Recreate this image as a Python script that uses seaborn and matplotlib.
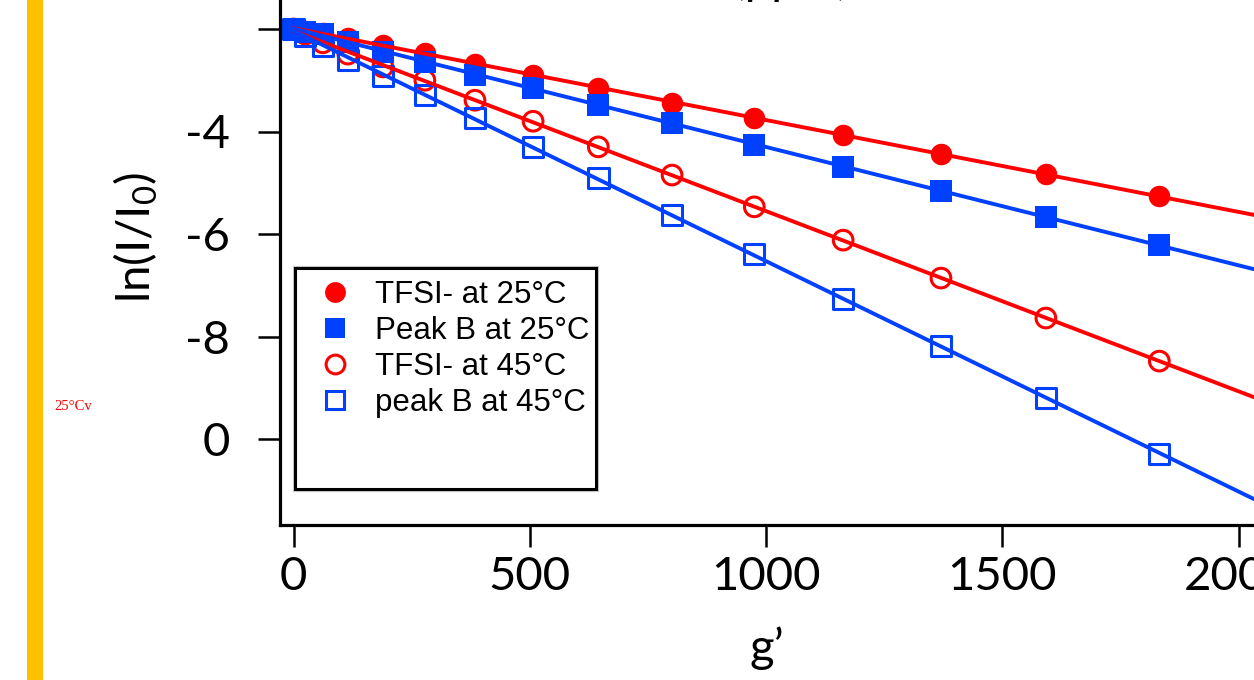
import numpy as np
import seaborn as sns
import matplotlib.pyplot as plt
from matplotlib.lines import Line2D
from matplotlib.patches import Rectangle

# data
g_prime = [0, 25, 62, 115, 189, 278, 384, 507, 645, 801, 975, 1163, 1370, 1592, 1832]
tfsi_25 = [0, -0.03, -0.08, -0.18, -0.31, -0.47, -0.68, -0.90, -1.15, -1.44, -1.74, -2.07, -2.44, -2.83, -3.26]
peakb_25 = [0, -0.05, -0.10, -0.25, -0.45, -0.64, -0.90, -1.15, -1.48, -1.83, -2.26, -2.69, -3.16, -3.67, -4.21]
tfsi_45 = [0, -0.10, -0.27, -0.49, -0.74, -1.00, -1.39, -1.80, -2.30, -2.85, -3.47, -4.12, -4.86, -5.64, -6.48]
peakb_45 = [0, -0.14, -0.33, -0.60, -0.92, -1.29, -1.74, -2.30, -2.91, -3.63, -4.39, -5.27, -6.19, -7.20, -8.29]

series_labels = ["TFSI- at 25°C", "Peak B at 25°C", "TFSI- at 45°C", "peak B at 45°C"]
x_ticks = [0, 500, 1000, 1500, 2000]
y_ticks = [0, -2, -4, -6, -8]
y_tick_labels = ["", "-4", "-6", "-8", "0"]

RED = "#FF0000"
BLUE = "#0040FF"
W, H = 1254, 680

sns.set_style("ticks")
plt.rcParams["font.family"] = ["Lato", "DejaVu Sans"]
plt.rcParams["text.color"] = "black"
plt.rcParams["mathtext.fontset"] = "custom"
plt.rcParams["mathtext.rm"] = "Lato"

fig = plt.figure(figsize=(W / 100, H / 100), dpi=100)
fig.patch.set_facecolor("white")
ax = fig.add_axes([280 / W, (H - 525) / H, (W - 280) / W, (525 + 51) / H])

x_left = (280 - 293.5) / 0.4726
x_right = (W - 293.5) / 0.4726
y_top = (29 + 51) / 51.25
y_bottom = -(525 - 29) / 51.25

# markers
sns.scatterplot(x=g_prime, y=tfsi_45, marker="o", s=200, facecolor="none",
                edgecolor=RED, linewidth=2.2, color=RED, zorder=2, ax=ax)
sns.scatterplot(x=g_prime, y=peakb_45, marker="s", s=215, facecolor="none",
                edgecolor=BLUE, linewidth=2.2, color=BLUE, zorder=2, ax=ax)
sns.scatterplot(x=g_prime, y=tfsi_25, marker="o", s=240, color=RED,
                edgecolor=RED, linewidth=0, zorder=2, ax=ax)
sns.scatterplot(x=g_prime, y=peakb_25, marker="s", s=250, color=BLUE,
                edgecolor=BLUE, linewidth=0, zorder=2, ax=ax)

# fit lines from the first point out past the right edge
ax.set_xlim(0, x_right)
for vals, col in [(tfsi_25, RED), (peakb_25, BLUE), (tfsi_45, RED), (peakb_45, BLUE)]:
    sns.regplot(x=np.array(g_prime), y=np.array(vals), scatter=False, ci=None,
                truncate=False, color=col, line_kws={"linewidth": 2.8, "zorder": 3}, ax=ax)

ax.set_xlim(x_left, x_right)
ax.set_ylim(y_bottom, y_top)
ax.set_xlabel("")
ax.set_ylabel("")
ax.set_xticks(x_ticks)
ax.set_xticklabels([str(t) for t in x_ticks])
ax.set_yticks(y_ticks)
ax.set_yticklabels(y_tick_labels)
ax.tick_params(axis="both", direction="out", length=16, width=1.8, labelsize=34,
               colors="black", labelcolor="black")
ax.tick_params(axis="y", pad=20)
ax.tick_params(axis="x", pad=6)
for side in ["top", "right"]:
    ax.spines[side].set_visible(False)
for side in ["left", "bottom"]:
    ax.spines[side].set_linewidth(2.3)
    ax.spines[side].set_color("black")

fig.text(136 / W, 1 - 237 / H, r"ln(I/I$_\mathregular{0}$)", rotation=90,
         ha="center", va="center", fontsize=34, color="black")
fig.text(767 / W, 1 - 662 / H, "g’", ha="center", va="baseline", fontsize=34, color="black")
fig.text(733 / W, 1 + 6 / H, "(ppm)", ha="left", va="baseline", fontsize=34, color="black")

# legend with its own box
fig.add_artist(Rectangle((293 / W, 1 - 491 / H), 305 / W, 225 / H, transform=fig.transFigure,
                         facecolor="white", edgecolor="#C8C8C8", lw=0.8, zorder=2))
fig.add_artist(Rectangle((295 / W, 1 - 489 / H), 301 / W, 221 / H, transform=fig.transFigure,
                         facecolor="white", edgecolor="black", lw=2.2, zorder=3))
handles = [
    Line2D([], [], ls="none", marker="o", ms=15, mfc=RED, mec=RED, mew=0),
    Line2D([], [], ls="none", marker="s", ms=15, mfc=BLUE, mec=BLUE, mew=0),
    Line2D([], [], ls="none", marker="o", ms=13.5, mfc="none", mec=RED, mew=2.2),
    Line2D([], [], ls="none", marker="s", ms=13.5, mfc="none", mec=BLUE, mew=2.2),
]
leg = fig.legend(handles, series_labels, loc="upper left",
                 bbox_to_anchor=(320 / W, 1 - 280 / H), bbox_transform=fig.transFigure,
                 frameon=False, prop={"family": "Liberation Sans", "size": 22.5},
                 handlelength=0.95, handletextpad=0.8, labelspacing=0.19,
                 borderpad=0, borderaxespad=0, labelcolor="black")
leg.set_zorder(5)

# slide decorations
fig.add_artist(Rectangle((27 / W, 0), 16 / W, 1, transform=fig.transFigure,
                         facecolor="#FFC000", edgecolor="none"))
fig.text(54 / W, 1 - 407 / H, "25°Cv", color="red", fontsize=10.5,
         family="Liberation Serif", va="center", ha="left")

fig.savefig("out.png", dpi=100)
